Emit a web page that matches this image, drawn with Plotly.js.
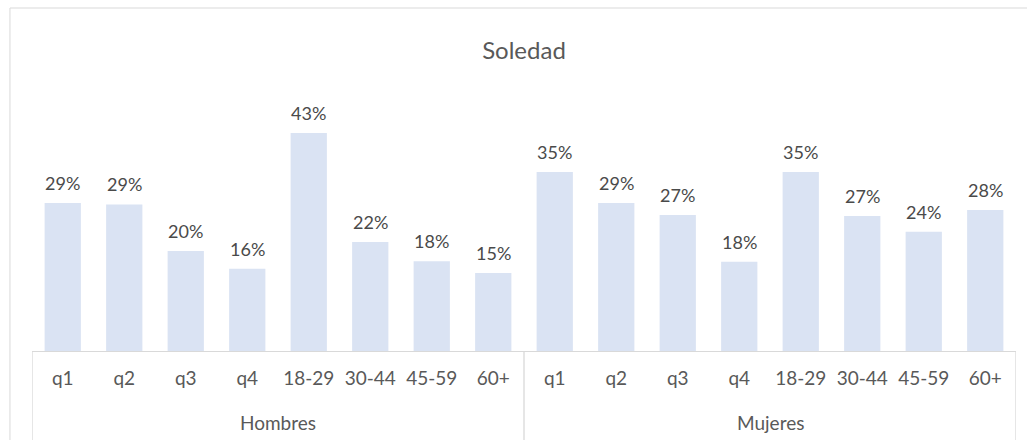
<!DOCTYPE html>
<html><head><meta charset="utf-8">
<script src="https://cdn.plot.ly/plotly-3.0.1.min.js"></script>
<style>html,body{margin:0;padding:0;background:#fff}#c{width:1027px;height:440px}</style>
</head><body><div id="c"></div>
<script>
const groupNames = ["Hombres","Mujeres"];
const categories = ["q1","q2","q3","q4","18-29","30-44","45-59","60+"];
const hombres = [0.292,0.289,0.197,0.162,0.430,0.215,0.177,0.154];
const mujeres = [0.353,0.292,0.268,0.176,0.353,0.266,0.235,0.278];

const font = "Lato, 'Open Sans', sans-serif";
const seriesByGroup = [hombres, mujeres];
const n = categories.length;
const xs = [], ys = [], ticktext = [];
seriesByGroup.forEach((vals,g)=>{
  vals.forEach((v,i)=>{ xs.push(g*n+i); ys.push(v); ticktext.push(categories[i]); });
});

const annotations = ys.map((v,i)=>({
  x: xs[i], y: v, xref:'x', yref:'y', text: Math.round(v*100)+'%',
  showarrow:false, yanchor:'bottom', yshift:7,
  font:{family:font, size:18, color:'#4a4a4a'}
}));
groupNames.forEach((name,g)=>{
  annotations.push({x: g*n+(n-1)/2, y:-0.285, xref:'x', yref:'paper', text:name,
    showarrow:false, yanchor:'middle', font:{family:font, size:19, color:'#595959'}});
});

const shapes = [{type:'rect', xref:'paper', yref:'paper', x0:-0.0224, x1:1.05, y0:-0.40, y1:1.3665,
           line:{color:'#D9D9D9', width:1}, fillcolor:'rgba(0,0,0,0)', layer:'below'}];
for (let g=0; g<=groupNames.length; g++) {
  shapes.push({type:'line', xref:'x', yref:'paper', x0:g*n-0.5, x1:g*n-0.5, y0:0, y1:-0.40,
    line:{color:'#D9D9D9', width:1.3}});
}

Plotly.newPlot('c',[{
  type:'bar', x: xs, y: ys,
  marker:{color:'#DAE3F3'}, hoverinfo:'none'
}],{
  width:1027, height:440,
  margin:{l:32, r:11, t:100, b:89},
  paper_bgcolor:'#fff', plot_bgcolor:'#fff',
  bargap:0.41,
  showlegend:false,
  title:{text:'Soledad', x:0.5, xref:'paper', y:0.886, yanchor:'middle',
         font:{family:font, size:24, color:'#595959'}},
  xaxis:{range:[-0.5, 2*n-0.5], showline:true, linecolor:'#D9D9D9', linewidth:1.3,
         tickmode:'array', tickvals: xs, ticktext: ticktext,
         ticks:'outside', ticklen:10, tickcolor:'rgba(0,0,0,0)',
         tickfont:{family:font, size:19, color:'#595959'}, showgrid:false, zeroline:false},
  yaxis:{range:[0,0.495], visible:false, showgrid:false, zeroline:false},
  annotations: annotations,
  shapes: shapes
},{staticPlot:true});
</script></body></html>
